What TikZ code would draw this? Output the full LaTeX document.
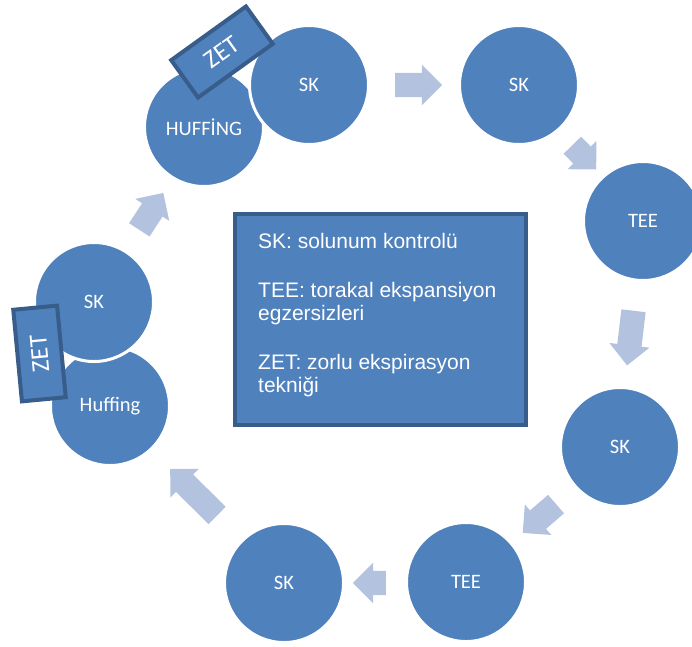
\documentclass[tikz,border=0pt]{standalone}
\usepackage{fontspec}
\usetikzlibrary{shapes.arrows}
\newfontfamily\circlefont{Carlito}
\newfontfamily\legendfont{Liberation Sans}
\definecolor{cyclefill}{RGB}{79,129,189}
\definecolor{cycleedge}{RGB}{56,93,138}
\definecolor{arrowfill}{RGB}{179,194,222}

\begin{document}
\begin{tikzpicture}[x=1pt, y=-1pt,
	stage/.style={circle, fill=cyclefill, draw=white, line width=3pt, minimum size=119pt, inner sep=0pt, text=white, font=\circlefont\fontsize{20.5}{24}\selectfont},
	zetbox/.style={rectangle, fill=cyclefill, draw=cycleedge, line width=4pt, minimum width=92pt, inner sep=0pt, text=white, font=\circlefont\fontsize{25.5}{28}\selectfont},
	cyclearrow/.style={single arrow, fill=arrowfill, draw=none, inner sep=0pt, text height=12pt, text depth=12pt, single arrow head extend=8pt, single arrow head indent=0pt},
	legendbox/.style={rectangle, fill=cyclefill, draw=cycleedge, line width=4pt, minimum width=291pt, minimum height=211pt},
	legendtext/.style={inner sep=0pt, align=left, text=white, font=\legendfont\fontsize{21}{23}\selectfont}]
	\useasboundingbox (0,0) rectangle (692,646);
	
	% 1. 左上: HUFFİNG + SK + ZET
	\node[stage] (hufTop) at (204,127) {HUFFİNG};
	\node[stage] (skTop) at (309,85) {SK};
	\node[zetbox, minimum height=46pt, rotate=35.7] (zetTop) at (222,52) {ZET};
	
	% 2. 右侧一圈
	\node[stage] (skA) at (519,85) {SK};
	\node[stage] (teeA) at (643,221) {TEE};
	\node[stage] (skB) at (620,447) {SK};
	\node[stage] (teeB) at (466,582) {TEE};
	\node[stage] (skC) at (284,583) {SK};
	
	% 3. 左侧: Huffing + SK + ZET
	\node[stage] (hufLeft) at (110,406) {Huffing};
	\node[stage] (skLeft) at (94,302) {SK};
	\node[zetbox, minimum height=44pt, rotate=95.4] (zetLeft) at (39.5,353.5) {ZET};
	
	% 4. 块状箭头
	\node[cyclearrow, minimum height=47pt] (arrA) at (412.5,85) {};
	\node[cyclearrow, minimum height=34pt, rotate=-45.6] (arrB) at (580,153) {};
	\node[cyclearrow, minimum height=55pt, rotate=-96.7] (arrC) at (631,332) {};
	\node[cyclearrow, minimum height=44pt, rotate=220.9] (arrD) at (544,514.5) {};
	\node[cyclearrow, minimum height=33pt, rotate=180] (arrE) at (375.5,583) {};
	\node[cyclearrow, minimum height=66pt, rotate=135.3] (arrF) at (198,496.5) {};
	\node[cyclearrow, minimum height=44pt, rotate=57] (arrG) at (148,216.5) {};
	
	% 5. 中间的说明框（base 锚点落在最后一行）
	\node[legendbox] (legend) at (380.5,319.5) {};
	\node[legendtext, anchor=base west] (legendTxt) at (258,392) {SK: solunum kontrolü\\[26pt]
		TEE: torakal ekspansiyon\\ egzersizleri\\[26pt]
		ZET: zorlu ekspirasyon\\ tekniği};
	
\end{tikzpicture}
\end{document}
